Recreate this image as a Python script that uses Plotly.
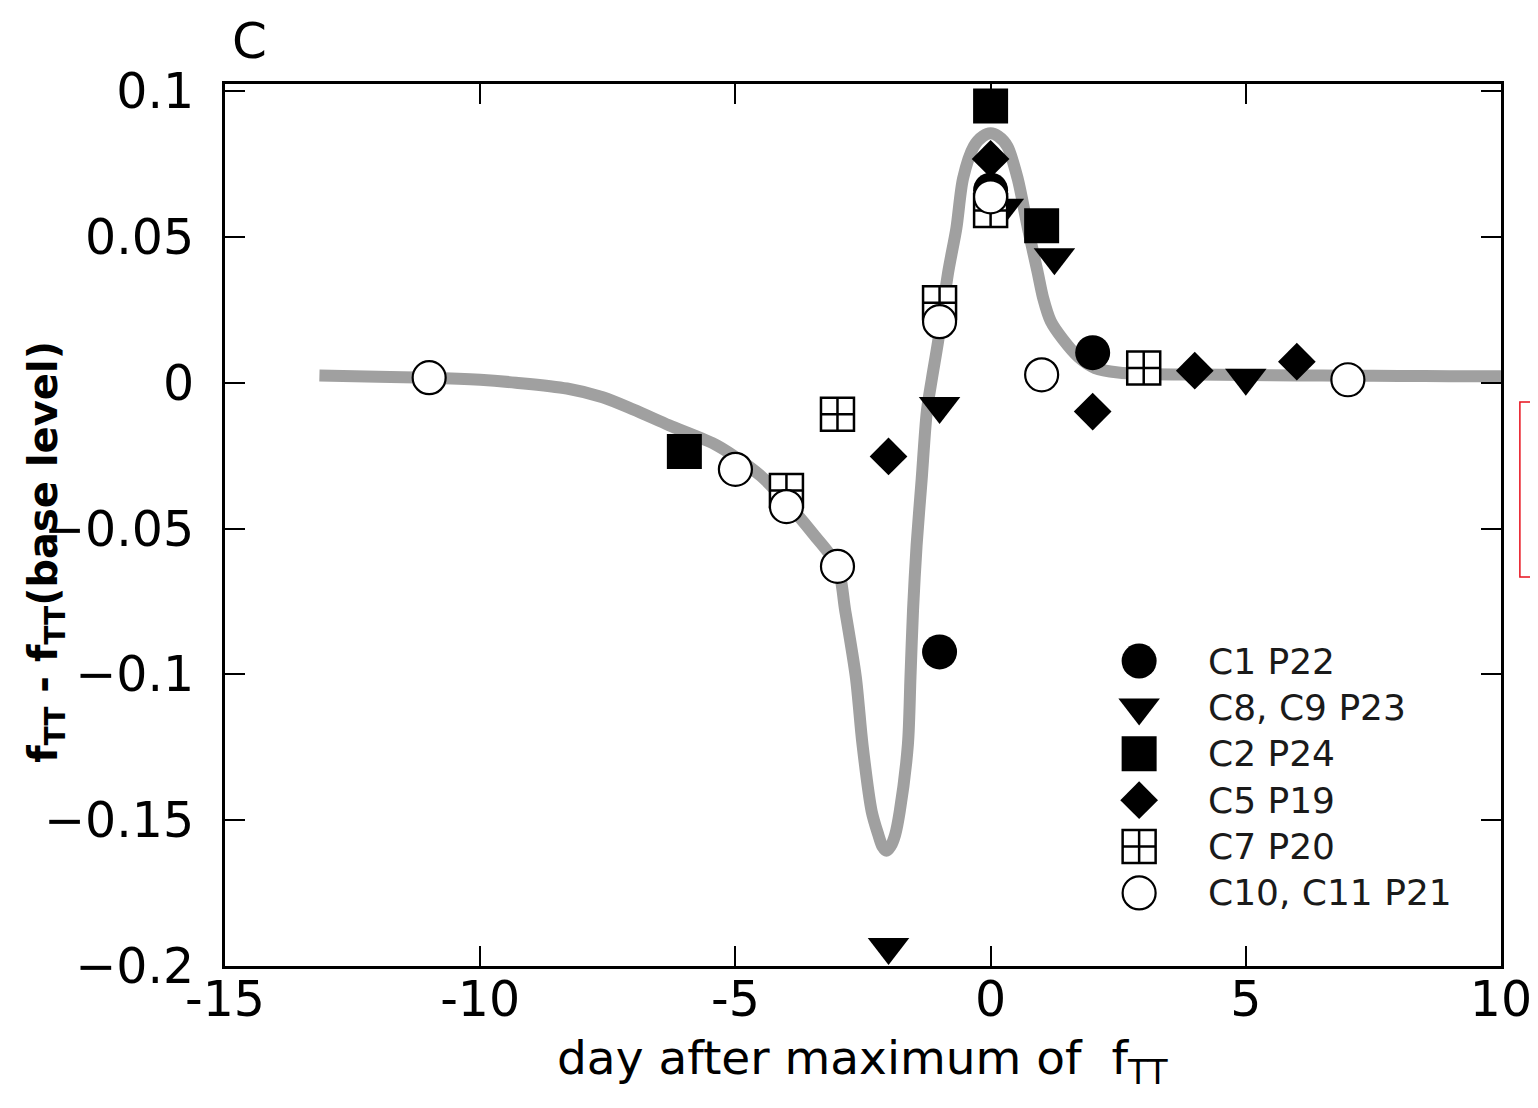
import plotly.graph_objects as go

# ---------------- data ----------------
curve_x = [-13.15, -12, -11, -10, -9.3, -8.3, -7.6, -7.0, -6.3, -5.35, -4.5, -4.0, -3.47, -3.0,
           -2.85, -2.64, -2.51, -2.33, -2.2, -2.12, -2.04, -1.96, -1.87, -1.78, -1.62, -1.57,
           -1.52, -1.45, -1.35, -1.25, -1.15, -1.03, -0.83, -0.67, -0.54, -0.33, -0.15, 0,
           0.15, 0.33, 0.53, 0.73, 0.92, 1.03, 1.18, 1.41, 1.72, 2.05, 2.5, 3, 4, 5, 6, 7, 8,
           9, 10]
curve_y = [0.0025, 0.002, 0.0017, 0.001, 0.0, -0.002, -0.005, -0.0092, -0.0146, -0.0216,
           -0.032, -0.041, -0.052, -0.063, -0.078, -0.101, -0.124, -0.147, -0.155, -0.159,
           -0.1605, -0.159, -0.155, -0.147, -0.124, -0.101, -0.078, -0.0558, -0.033, -0.010,
           0.0014, 0.014, 0.038, 0.053, 0.070, 0.081, 0.0845, 0.0855, 0.0845, 0.081, 0.070,
           0.053, 0.038, 0.029, 0.021, 0.015, 0.0088, 0.005, 0.0035, 0.003, 0.0028, 0.0026,
           0.0025, 0.0024, 0.0023, 0.0022, 0.0022]

c1_x = [-1, 0, 2]
c1_y = [-0.0923, 0.066, 0.0103]
c8_x = [-2, -1, 0.25, 1.25, 5]
c8_y = [-0.1935, -0.008, 0.060, 0.043, 0.0017]
c2_x = [-6, 0, 1]
c2_y = [-0.0236, 0.0949, 0.0538]
c5_x = [-2, 0, 2, 4, 6]
c5_y = [-0.0253, 0.0767, -0.0099, 0.0041, 0.0072]
c7_x = [-4, -3, -1, 0, 3]
c7_y = [-0.037, -0.0108, 0.0274, 0.059, 0.005]
c10_x = [-11, -5, -4, -3, -1, 0, 1, 7]
c10_y = [0.0017, -0.0297, -0.0425, -0.063, 0.0209, 0.0637, 0.0027, 0.001]

series_names = ["C1 P22", "C8, C9 P23", "C2 P24", "C5 P19", "C7 P20", "C10, C11 P21"]

x_tickvals = [-15, -10, -5, 0, 5, 10]
x_ticktext = ["-15", "-10", "-5", "0", "5", "10"]
y_tickvals = [0.1, 0.05, 0, -0.05, -0.1, -0.15, -0.2]
y_ticktext = ["0.1", "0.05", "0", "\u22120.05", "\u22120.1", "\u22120.15", "\u22120.2"]

# ---------------- styles ----------------
FONT = "DejaVu Sans"
styles = [
    dict(symbol="circle", size=35, color="black", line=dict(color="black", width=0)),
    dict(symbol="triangle-down", size=36, color="black", line=dict(color="black", width=0)),
    dict(symbol="square", size=35, color="black", line=dict(color="black", width=0)),
    dict(symbol="diamond", size=29, color="black", line=dict(color="black", width=0)),
    dict(symbol="square-cross", size=33, color="white", line=dict(color="black", width=2.5)),
    dict(symbol="circle", size=33, color="white", line=dict(color="black", width=2.2)),
]
series = [(c1_x, c1_y), (c8_x, c8_y), (c2_x, c2_y), (c5_x, c5_y), (c7_x, c7_y), (c10_x, c10_y)]

fig = go.Figure()
fig.add_trace(go.Scatter(x=curve_x, y=curve_y, mode="lines",
                         line=dict(color="#a0a0a0", width=12, shape="spline", smoothing=0.8),
                         showlegend=False, hoverinfo="skip"))
for (sx, sy), st, name in zip(series, styles, series_names):
    fig.add_trace(go.Scatter(x=sx, y=sy, mode="markers", name=name, marker=st,
                             showlegend=False))

# custom legend on an overlay axis (0..1 inside the plot area)
leg_x = 0.7164
leg_y0 = 0.3458
leg_dy = 0.0526
for i, (st, name) in enumerate(zip(styles, series_names)):
    yy = leg_y0 - i * leg_dy
    fig.add_trace(go.Scatter(x=[leg_x], y=[yy], mode="markers", marker=st,
                             xaxis="x2", yaxis="y2", showlegend=False, hoverinfo="skip"))
    fig.add_annotation(x=0.769, y=yy, xref="paper", yref="paper", text=name,
                       showarrow=False, xanchor="left", yanchor="middle",
                       font=dict(family=FONT, size=36, color="#1a1a1a"))

fig.add_annotation(x=0.004, y=1.049, xref="paper", yref="paper", text="C",
                   showarrow=False, xanchor="left", yanchor="middle",
                   font=dict(family=FONT, size=50, color="black"))

fig.add_annotation(x=0.5, y=-0.108, xref="paper", yref="paper",
                   text="day after maximum of  f<sub>TT</sub>",
                   showarrow=False, xanchor="center", yanchor="middle",
                   font=dict(family=FONT, size=47, color="black"))

fig.add_annotation(x=-0.14, y=0.47, xref="paper", yref="paper",
                   text="<b>f<sub>TT</sub> - f<sub>TT</sub>(base level)</b>", textangle=-90,
                   showarrow=False, xanchor="center", yanchor="middle",
                   font=dict(family=FONT, size=40, color="black"))

fig.add_shape(type="rect", xref="paper", yref="paper", x0=1.0148, x1=1.06,
              y0=0.441, y1=0.6395, line=dict(color="#e8101c", width=1.5))

axis_common = dict(showline=True, linecolor="black", linewidth=3, mirror="ticks",
                   ticks="inside", ticklen=20, tickwidth=2, tickcolor="black",
                   showgrid=False, zeroline=False,
                   tickfont=dict(family=FONT, size=49, color="black"))

# the page body adds a small offset; margins compensate so the plot area lands at
# x 223..1503, y 84..966 of the window
fig.update_layout(
    width=1536, height=1100,
    margin=dict(l=217, r=35, t=76, b=142),
    paper_bgcolor="white", plot_bgcolor="white",
    showlegend=False,
    xaxis=dict(range=[-15, 10], tickvals=x_tickvals, ticktext=x_ticktext,
               ticklabelstandoff=-12, **axis_common),
    yaxis=dict(range=[-0.2, 0.1024], tickvals=y_tickvals, ticktext=y_ticktext,
               ticklabelstandoff=18, **axis_common),
    xaxis2=dict(overlaying="x", range=[0, 1], visible=False),
    yaxis2=dict(overlaying="y", range=[0, 1], visible=False),
)

fig.write_html("out.html")
